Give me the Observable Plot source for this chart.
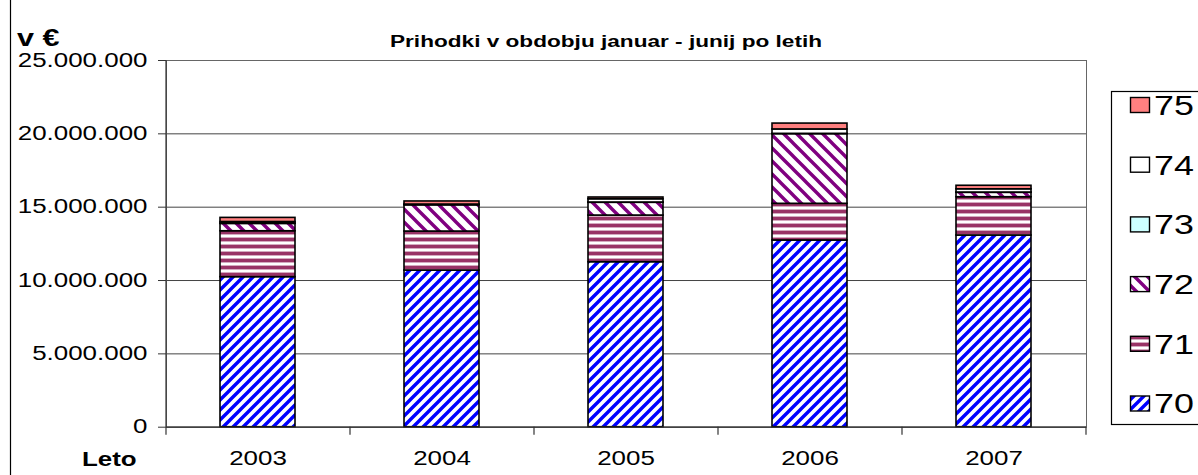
<!DOCTYPE html>
<html><head><meta charset="utf-8">
<script src="https://cdn.jsdelivr.net/npm/d3@7"></script>
<script src="https://cdn.jsdelivr.net/npm/@observablehq/plot@0.6"></script>
<style>
body{margin:0;background:#fff}
#chart{position:relative;width:1198px;height:475px}
</style>
</head><body><div id="chart"></div>
<script>
// ---- data (values in millions of EUR) ----
const years = ["2003", "2004", "2005", "2006", "2007"];
const seriesNames = ["70", "71", "72", "73", "74", "75"];
const s70 = [10.23, 10.68, 11.25, 12.73, 13.07];
const s71 = [3.13, 2.66, 3.18, 2.50, 2.61];
const s72 = [0.50, 1.79, 0.87, 4.75, 0.30];
const s73 = [0.03, 0.02, 0.02, 0.02, 0.02];
const s74 = [0.10, 0.03, 0.22, 0.30, 0.22];
const s75 = [0.28, 0.21, 0.12, 0.40, 0.24];
const yTicks = [0, 5e6, 10e6, 15e6, 20e6, 25e6];
const titleText = "Prihodki v obdobju januar - junij po letih";
const yLabel = "v €";
const xLabel = "Leto";

const seriesValues = [s70, s71, s72, s73, s74, s75];
const rows = [];
seriesNames.forEach((s, k) => years.forEach((y, i) => rows.push({year: y, series: s, value: seriesValues[k][i] * 1e6})));

const W = 1198, H = 475, mL = 166, mR = 112, mT = 60, mB = 48.3;
const step = (W - mL - mR) / years.length;
const fills = ["url(#p70)", "url(#p71)", "url(#p72)", "#CCFFFF", "#FFFFFF", "#FF8080"];
const fmt = d => d3.format(",")(d).replace(/,/g, ".");
const FONT = "'Liberation Sans', Arial, sans-serif";

const plot = Plot.plot({
  width: W, height: H,
  marginLeft: mL, marginRight: mR, marginTop: mT, marginBottom: mB,
  style: {fontFamily: FONT, fontSize: "19.5px", color: "#000", background: "#fff", overflow: "visible"},
  x: {domain: years, paddingInner: 0.592, paddingOuter: 0.296, label: null},
  y: {domain: [0, 25e6], label: null},
  color: {domain: seriesNames, range: fills},
  marks: [
    Plot.gridY(yTicks, {stroke: "#444", strokeOpacity: 1}),
    Plot.frame({stroke: "#666"}),
    Plot.barY(rows, {x: "year", y: "value", fill: "series", stroke: "#000", strokeWidth: 1.6}),
    Plot.ruleY([0], {stroke: "#333", strokeWidth: 1.2}),
    Plot.ruleX([years[0]], {x: d => d, dx: -step / 2, y1: 25e6, y2: 0, insetBottom: -8, stroke: "#333", strokeWidth: 1.2}),
    Plot.ruleX(years.slice(1), {x: d => d, dx: -step / 2, y1: 0, y2: 0, insetBottom: -8, stroke: "#333", strokeWidth: 1.2}),
    Plot.ruleX([years[years.length - 1]], {x: d => d, dx: step / 2, y1: 0, y2: 0, insetBottom: -8, stroke: "#333", strokeWidth: 1.2}),
    Plot.axisY(yTicks, {tickSize: 8, tickPadding: 11, tickFormat: fmt, label: null, stroke: "#333", fill: "#000"}),
    Plot.axisX({tickSize: 0, tickPadding: 24, label: null, fill: "#000"})
  ]
});

document.getElementById("chart").appendChild(plot);
const svg = d3.select(plot);

// pattern definitions
const defs = svg.insert("defs", ":first-child");
const p70 = defs.append("pattern").attr("id", "p70").attr("patternUnits", "userSpaceOnUse").attr("width", 10).attr("height", 10);
p70.append("rect").attr("width", 10).attr("height", 10).attr("fill", "#fff");
p70.append("path").attr("d", "M-2,2L2,-2M0,10L10,0M8,12L12,8").attr("stroke", "#0000FF").attr("stroke-width", 3.4);
const p71 = defs.append("pattern").attr("id", "p71").attr("patternUnits", "userSpaceOnUse").attr("width", 7).attr("height", 7);
p71.append("rect").attr("width", 7).attr("height", 7).attr("fill", "#fff");
p71.append("rect").attr("y", 0).attr("width", 7).attr("height", 3).attr("fill", "#993366");
p71.append("rect").attr("y", 3).attr("width", 7).attr("height", 1).attr("fill", "#d4a9bf");
p71.append("rect").attr("y", 6).attr("width", 7).attr("height", 1).attr("fill", "#d4a9bf");
const p72 = defs.append("pattern").attr("id", "p72").attr("patternUnits", "userSpaceOnUse").attr("width", 13).attr("height", 13);
p72.append("rect").attr("width", 13).attr("height", 13).attr("fill", "#fff");
p72.append("path").attr("d", "M-2,11L2,15M0,0L13,13M11,-2L15,2").attr("stroke", "#800080").attr("stroke-width", 3.4);

// outer chart border (left edge visible)
svg.append("line").attr("x1", 10.5).attr("x2", 10.5).attr("y1", 0).attr("y2", H).attr("stroke", "#000").attr("stroke-width", 1.2);

// title and axis captions
svg.append("text").attr("x", 606).attr("y", 47).attr("text-anchor", "middle")
  .attr("font-family", FONT).attr("font-weight", "bold").attr("font-size", 17).text(titleText);
svg.append("text").attr("x", 17).attr("y", 46).attr("text-anchor", "start")
  .attr("font-family", FONT).attr("font-weight", "bold").attr("font-size", 23).text(yLabel);
svg.append("text").attr("x", 82).attr("y", 466).attr("text-anchor", "start")
  .attr("font-family", FONT).attr("font-weight", "bold").attr("font-size", 19.5).text(xLabel);

// legend
const lg = svg.append("g");
lg.append("rect").attr("x", 1111.5).attr("y", 91.5).attr("width", 120).attr("height", 333)
  .attr("fill", "#fff").attr("stroke", "#000").attr("stroke-width", 1.2);
const legendOrder = seriesNames.slice().reverse();
legendOrder.forEach((s, i) => {
  const cy = 105 + i * 59.7;
  lg.append("rect").attr("x", 1130.5).attr("y", cy - 7.5).attr("width", 19).attr("height", 15)
    .attr("fill", fills[seriesNames.indexOf(s)]).attr("stroke", "#000").attr("stroke-width", 1.4);
  lg.append("text").attr("x", 1154).attr("y", cy + 10).attr("text-anchor", "start")
    .attr("font-family", FONT).attr("font-size", 27).text(s);
});

// horizontal stretch of all text (the reference is rendered wide)
const SX = 1.33;
plot.querySelectorAll("text").forEach(t => {
  const ox = parseFloat(t.getAttribute("x")) || 0;
  const tr = t.getAttribute("transform") || "";
  t.setAttribute("transform", `${tr} translate(${ox},0) scale(${SX},1) translate(${-ox},0)`);
});
</script>
</body></html>
